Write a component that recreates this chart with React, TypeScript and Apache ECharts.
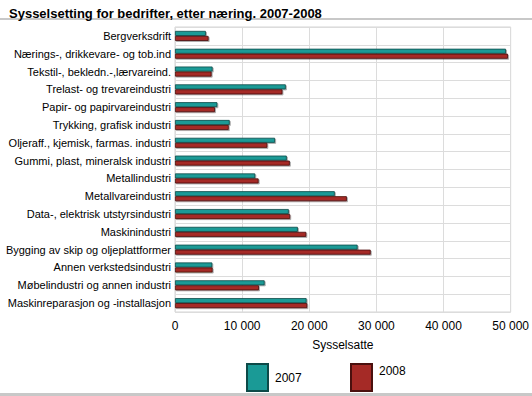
import React, { useEffect, useRef } from "react";
import * as echarts from "echarts";

const categories = [
  "Bergverksdrift",
  "Nærings-, drikkevare- og tob.ind",
  "Tekstil-, bekledn.-,lærvareind.",
  "Trelast- og trevareindustri",
  "Papir- og papirvareindustri",
  "Trykking, grafisk industri",
  "Oljeraff., kjemisk, farmas. industri",
  "Gummi, plast, mineralsk industri",
  "Metallindustri",
  "Metallvareindustri",
  "Data-, elektrisk utstyrsindustri",
  "Maskinindustri",
  "Bygging av skip og oljeplattformer",
  "Annen verkstedsindustri",
  "Møbelindustri og annen industri",
  "Maskinreparasjon og -installasjon",
];

const values2007 = [4600, 49300, 5600, 16500, 6300, 8150, 14900, 16650, 11950, 23800, 16950, 18300, 27200, 5550, 13350, 19600];
const values2008 = [5000, 49600, 5450, 16000, 5950, 8000, 13750, 17100, 12450, 25600, 17150, 19550, 29150, 5600, 12500, 19700];

const xTicks = [0, 10000, 20000, 30000, 40000, 50000];

const FONT = "'Liberation Sans', Arial, sans-serif";

export default function App() {
  const ref = useRef<HTMLDivElement>(null);
  useEffect(() => {
    if (!ref.current) return;
    const chart = echarts.init(ref.current, undefined, { renderer: "svg" });
    const legendBase = {
      top: 363,
      padding: 0,
      itemWidth: 21,
      itemHeight: 27,
      icon: "rect",
    };
    chart.setOption({
      animation: false,
      backgroundColor: "#fff",
      textStyle: { fontFamily: FONT },
      title: {
        text: "Sysselsetting for bedrifter, etter næring. 2007-2008",
        left: 4,
        top: 2,
        textStyle: { fontSize: 13, fontWeight: "bold", color: "#000", fontFamily: FONT },
      },
      graphic: [
        { type: "rect", shape: { x: 0, y: 18, width: 532, height: 2 }, style: { fill: "#c8c8c8" } },
        { type: "rect", shape: { x: 0, y: 393, width: 532, height: 3 }, style: { fill: "#c8c8c8" } },
      ],
      legend: [
        {
          ...legendBase,
          left: 246,
          textStyle: { fontSize: 12, color: "#000", fontFamily: FONT, padding: [2, 0, 0, 2] },
          data: ["2007"],
        },
        {
          ...legendBase,
          left: 350,
          formatter: "{up|{name}}",
          textStyle: {
            fontSize: 12,
            color: "#000",
            fontFamily: FONT,
            rich: {
              up: { fontSize: 12, color: "#000", fontFamily: FONT, padding: [0, 0, 14, 2] },
            },
          },
          data: ["2008"],
        },
      ],
      grid: {
        left: 175,
        right: 20,
        top: 27,
        bottom: 84,
        show: true,
        borderColor: "#d4d4d4",
        borderWidth: 1,
        containLabel: false,
      },
      xAxis: {
        type: "value",
        min: xTicks[0],
        max: xTicks[xTicks.length - 1],
        interval: 10000,
        name: "Sysselsatte",
        nameLocation: "middle",
        nameGap: 27,
        nameTextStyle: { fontSize: 12, color: "#000", fontFamily: FONT },
        axisLine: { show: false },
        axisTick: { show: false },
        axisLabel: {
          fontSize: 12,
          color: "#000",
          margin: 8,
          fontFamily: FONT,
          formatter: (v: number) => String(v).replace(/\B(?=(\d{3})+(?!\d))/g, " "),
        },
        splitLine: { show: true, lineStyle: { color: "#dcdcdc", width: 1 } },
      },
      yAxis: {
        type: "category",
        inverse: true,
        data: categories,
        axisLine: { show: false },
        axisTick: { show: false },
        axisLabel: { fontSize: 11, color: "#000", margin: 4, fontFamily: FONT, interval: 0 },
        splitLine: { show: true, interval: 0, lineStyle: { color: "#dcdcdc", width: 1 } },
      },
      series: [
        {
          name: "2007",
          type: "bar",
          data: values2007,
          barWidth: 5,
          barGap: "0%",
          itemStyle: {
            color: "#1a9a96",
            borderColor: "#0d4a48",
            borderWidth: 0.8,
            shadowColor: "rgba(0,0,0,0.35)",
            shadowOffsetX: 1,
            shadowOffsetY: 1,
            shadowBlur: 0,
          },
        },
        {
          name: "2008",
          type: "bar",
          data: values2008,
          barWidth: 5,
          itemStyle: {
            color: "#a52a26",
            borderColor: "#4a100e",
            borderWidth: 0.8,
            shadowColor: "rgba(0,0,0,0.35)",
            shadowOffsetX: 1,
            shadowOffsetY: 1,
            shadowBlur: 0,
          },
        },
      ],
    });
    return () => chart.dispose();
  }, []);
  return <div ref={ref} style={{ width: 532, height: 396, position: "absolute", left: 0, top: 0 }} />;
}
